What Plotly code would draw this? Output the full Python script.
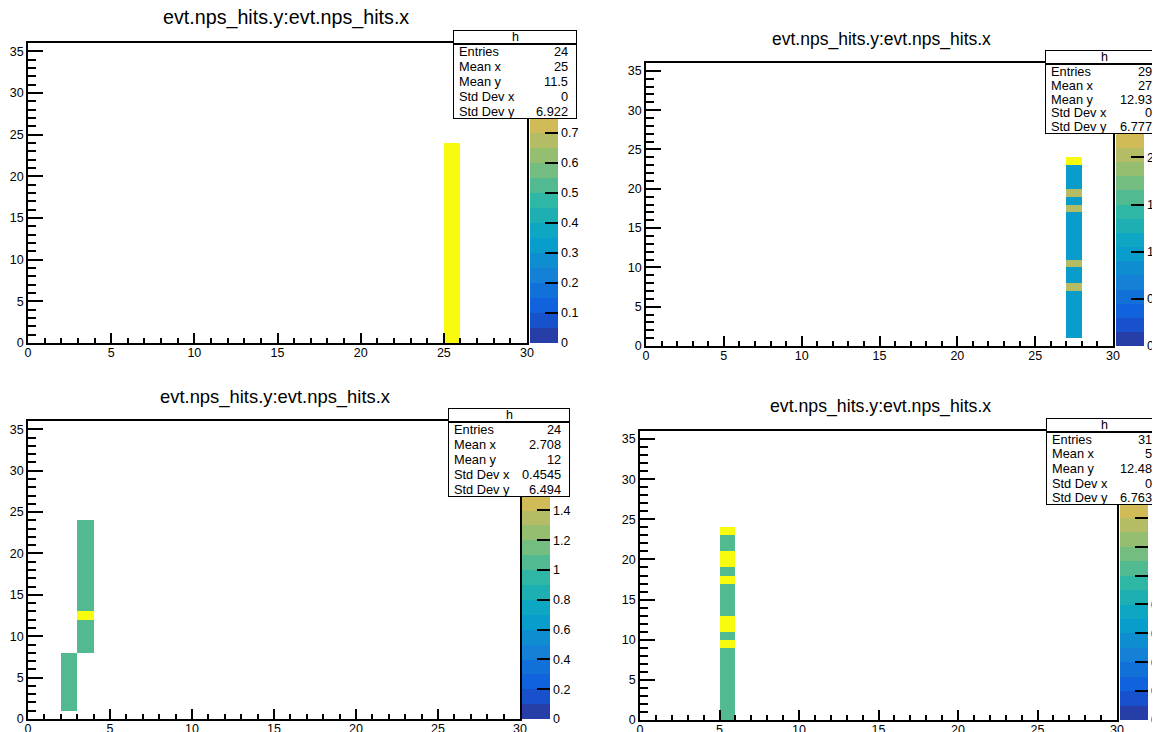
import numpy as np
import plotly.graph_objects as go

# the page body has an 8 px margin: the figure is drawn 8 px smaller and all
# reference pixel positions are shifted by that offset
OFF = 8
W, H = 1160 - OFF, 732 - OFF

# ---------------- data ----------------
title_text = "evt.nps_hits.y:evt.nps_hits.x"
stat_labels = ["Entries", "Mean x", "Mean y", "Std Dev x", "Std Dev y"]

# top-left panel: one column (x bin lower edge), first y bin, counts per y bin
tl_cols = [25]
tl_y0 = [0]
tl_counts = [[1, 1, 1, 1, 1, 1, 1, 1, 1, 1, 1, 1, 1, 1, 1, 1, 1, 1, 1, 1, 1, 1, 1, 1]]
tl_stats = ["24", "25", "11.5", "0", "6.922"]
tl_zmax = 1.0
tl_zdtick = 0.1

# top-right panel
tr_cols = [27]
tr_y0 = [1]
tr_counts = [[1, 1, 1, 1, 1, 1, 2, 1, 1, 2, 1, 1, 1, 1, 1, 1, 2, 1, 2, 1, 1, 1, 3]]
tr_stats = ["29", "27", "12.93", "0", "6.777"]
tr_zmax = 3.0
tr_zdtick = 0.5

# bottom-left panel
bl_cols = [2, 3]
bl_y0 = [1, 8]
bl_counts = [[1, 1, 1, 1, 1, 1, 1],
             [1, 1, 1, 1, 2, 1, 1, 1, 1, 1, 1, 1, 1, 1, 1, 1]]
bl_stats = ["24", "2.708", "12", "0.4545", "6.494"]
bl_zmax = 2.0
bl_zdtick = 0.2

# bottom-right panel
br_cols = [5]
br_y0 = [0]
br_counts = [[1, 1, 1, 1, 1, 1, 1, 1, 1, 2, 1, 2, 2, 1, 1, 1, 1, 2, 1, 2, 2, 1, 1, 2]]
br_stats = ["31", "5", "12.48", "0", "6.763"]
br_zmax = 2.0
br_zdtick = 0.2

NX, NY = 30, 36  # histogram bins (width 1)

# ---------------- kBird palette (ROOT) ----------------
stops = [0.0, 0.125, 0.25, 0.375, 0.5, 0.625, 0.75, 0.875, 1.0]
red = [0.2082, 0.0592, 0.0780, 0.0232, 0.1802, 0.5301, 0.8186, 0.9956, 0.9764]
green = [0.1664, 0.3599, 0.5041, 0.6419, 0.7178, 0.7492, 0.7328, 0.7862, 0.9832]
blue = [0.5293, 0.8684, 0.8385, 0.7914, 0.6425, 0.4662, 0.3499, 0.1968, 0.0539]


def bird(f):
    r = np.interp(f, stops, red)
    g = np.interp(f, stops, green)
    b = np.interp(f, stops, blue)
    return "rgb(%d,%d,%d)" % (round(r * 255), round(g * 255), round(b * 255))


NCONT = 20
band_colors = [bird(int((i + 0.99) * 255 / NCONT) / 254.0) for i in range(NCONT)]
colorscale = []
for i, c in enumerate(band_colors):
    lo = 0.0 if i == 0 else (i - 0.01) / NCONT
    hi = 1.0 if i == NCONT - 1 else (i + 1 - 0.01) / NCONT
    colorscale.append([lo, c])
    colorscale.append([hi, c])


def fx(x):
    return (x - OFF) / W


def fy(y):
    return 1 - (y - OFF) / H


panels = [
    dict(cols=tl_cols, y0=tl_y0, counts=tl_counts, stats=tl_stats, zmax=tl_zmax, zdtick=tl_zdtick,
         frame=(28, 527, 43, 343), cb=530, box=(453, 577, 30, 44, 119), title=(286, 17, 19.7)),
    dict(cols=tr_cols, y0=tr_y0, counts=tr_counts, stats=tr_stats, zmax=tr_zmax, zdtick=tr_zdtick,
         frame=(646, 1113, 63, 346), cb=1116, box=(1045, 1163, 50, 64, 134), title=(881, 39, 17.5)),
    dict(cols=bl_cols, y0=bl_y0, counts=bl_counts, stats=bl_stats, zmax=bl_zmax, zdtick=bl_zdtick,
         frame=(28, 520, 421, 719), cb=522, box=(448, 570, 408, 422, 497), title=(275, 397, 18.4)),
    dict(cols=br_cols, y0=br_y0, counts=br_counts, stats=br_stats, zmax=br_zmax, zdtick=br_zdtick,
         frame=(640, 1117, 431, 720), cb=1120, box=(1046, 1163, 418, 432, 505), title=(880, 406, 17.7)),
]

FONT = "Liberation Sans, Arial, sans-serif"
fig = go.Figure()
annotations = []
layout = dict(width=W, height=H, margin=dict(l=0, r=0, t=0, b=0, autoexpand=False),
              paper_bgcolor="white", plot_bgcolor="white", showlegend=False,
              font=dict(family=FONT, color="black"))

xc = np.arange(NX) + 0.5
yc = np.arange(NY) + 0.5

for k, p in enumerate(panels):
    n = "" if k == 0 else str(k + 1)
    z = np.full((NY, NX), np.nan)
    for col, y0, cnts in zip(p["cols"], p["y0"], p["counts"]):
        for j, v in enumerate(cnts):
            z[y0 + j, col] = v
    zl = [[None if np.isnan(v) else float(v) for v in row] for row in z]
    x0, x1, top, bot = p["frame"]
    bl_, br_, bt, bd, bb = p["box"]
    # colour-bar ticks that are not hidden by the statistics box
    tv = []
    kk = 0
    while True:
        v = round(kk * p["zdtick"], 6)
        if v > p["zmax"] + 1e-9:
            break
        ypix = bot - v / p["zmax"] * (bot - top)
        if ypix - 7 > bb:
            tv.append(v)
        kk += 1
    fig.add_trace(go.Heatmap(
        x=xc, y=yc, z=zl, zmin=0, zmax=p["zmax"], colorscale=colorscale,
        xaxis="x" + n, yaxis="y" + n, hoverinfo="skip",
        colorbar=dict(x=fx(p["cb"]), xanchor="left", y=fy(bot), yanchor="bottom",
                      len=(bot - top) / H, lenmode="fraction", thickness=28, thicknessmode="pixels",
                      xpad=0, ypad=0, outlinewidth=0, ticks="inside", ticklen=13, tickwidth=1.5,
                      tickcolor="black", tickmode="array", tickvals=tv,
                      ticktext=[("%g" % v) for v in tv],
                      tickfont=dict(family=FONT, size=12.5, color="black")),
    ))
    layout["xaxis" + n] = dict(domain=[fx(x0), fx(x1)], range=[0, NX], anchor="y" + n,
                               showgrid=False, zeroline=False, showline=True, mirror=True,
                               linecolor="black", linewidth=1.5, ticks="inside", ticklen=10,
                               tickwidth=1.5, tickcolor="black", tick0=0, dtick=5,
                               ticklabelstandoff=-3,
                               minor=dict(dtick=1, ticks="inside", ticklen=5, tickcolor="black", tickwidth=1.5),
                               tickfont=dict(family=FONT, size=12.5, color="black"), fixedrange=True)
    layout["yaxis" + n] = dict(domain=[fy(bot), fy(top)], range=[0, NY], anchor="x" + n,
                               showgrid=False, zeroline=False, showline=True, mirror=True,
                               linecolor="black", linewidth=1.5, ticks="inside", ticklen=15,
                               tickwidth=1.5, tickcolor="black", tick0=0, dtick=5,
                               minor=dict(dtick=1, ticks="inside", ticklen=8, tickcolor="black", tickwidth=1.5),
                               tickfont=dict(family=FONT, size=12.5, color="black"), fixedrange=True)
    # title
    tx, ty, ts = p["title"]
    annotations.append(dict(xref="paper", yref="paper", x=fx(tx), y=fy(ty), xanchor="center",
                            yanchor="middle", text=title_text, showarrow=False,
                            font=dict(family=FONT, size=ts, color="black")))
    # stat box
    annotations.append(dict(xref="paper", yref="paper", x=fx(bl_), y=fy(bt), xanchor="left",
                            yanchor="top", text=" ", showarrow=False, width=br_ - bl_ - 2,
                            height=bd - bt - 2, bgcolor="white", bordercolor="black",
                            borderwidth=1, borderpad=0))
    annotations.append(dict(xref="paper", yref="paper", x=fx(bl_), y=fy(bd), xanchor="left",
                            yanchor="top", text=" ", showarrow=False, width=br_ - bl_ - 2,
                            height=bb - bd - 2, bgcolor="white", bordercolor="black",
                            borderwidth=1, borderpad=0))
    annotations.append(dict(xref="paper", yref="paper", x=fx((bl_ + br_) / 2),
                            y=fy((bt + bd) / 2), xanchor="center", yanchor="middle", text="h",
                            showarrow=False, font=dict(family=FONT, size=12.5, color="black")))
    rowh = (bb - bd) / 5.0
    for r, (lab, val) in enumerate(zip(stat_labels, p["stats"])):
        yy = bd + rowh * (r + 0.5)
        annotations.append(dict(xref="paper", yref="paper", x=fx(bl_ + 4), y=fy(yy), xanchor="left",
                                yanchor="middle", text=lab, showarrow=False,
                                font=dict(family=FONT, size=12.8, color="black")))
        annotations.append(dict(xref="paper", yref="paper", x=fx(min(br_, 1161) - 7), y=fy(yy),
                                xanchor="right", yanchor="middle", text=val, showarrow=False,
                                font=dict(family=FONT, size=12.8, color="black")))

layout["annotations"] = annotations
fig.update_layout(**layout)
fig.write_html("out.html")
